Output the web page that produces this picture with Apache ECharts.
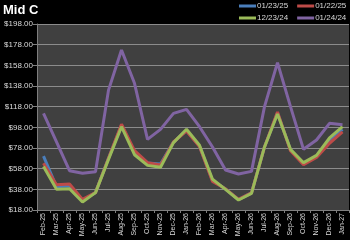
<!DOCTYPE html>
<html><head><meta charset="utf-8">
<script src="https://cdn.jsdelivr.net/npm/echarts@6/dist/echarts.min.js"></script>
<style>html,body{margin:0;padding:0;background:#000;}#c{width:350px;height:240px;}</style>
</head><body><div id="c"></div>
<script>
var categories = ['Feb-25','Mar-25','Apr-25','May-25','Jun-25','Jul-25','Aug-25','Sep-25','Oct-25','Nov-25','Dec-25','Jan-26','Feb-26','Mar-26','Apr-26','May-26','Jun-26','Jul-26','Aug-26','Sep-26','Oct-26','Nov-26','Dec-26','Jan-27'];
var s_012325 = [70.2,40.5,41.5,27.5,34.8,68,100,74,63.5,62.5,83.8,95,79.8,46.5,38.3,28,34.5,79,112,76,62.5,69.5,85.8,96];
var s_012225 = [63.2,42.5,43.2,28.3,34.8,68,101,75.4,63.8,61.5,83.8,94.5,79.4,45.7,38.5,28.3,34.5,79,112.8,75.4,61.8,68.9,82.6,93.5];
var s_122324 = [60,38,38.6,25.8,34.8,67,98.6,71.5,61.2,59.3,83.2,96.1,80.6,47.7,38,27.7,34.1,79,110.9,76.7,63.8,70.9,87.7,98.6];
var s_012424 = [111.5,84,56,53.5,55,134,172.8,140.6,86.4,96,111.5,115.4,98.6,79,56.7,52.8,55.4,118,160.6,118,76.7,85.7,101.9,100.6];
var names = ['01/23/25','01/22/25','12/23/24','01/24/24'];
var colors = ['#4A7EBB','#BE4B48','#9BBB59','#8064A2'];
var datas = [s_012325, s_012225, s_122324, s_012424];

function legendRow(items, top) {
  return {
    left: 239, top: top, itemWidth: 17, itemHeight: 3, itemGap: 9, padding: 0,
    icon: 'rect',
    textStyle: {color: '#d9d9d9', fontSize: 8, fontFamily: 'Liberation Sans', padding: [0,0,0,-4]},
    data: items
  };
}

var chart = echarts.init(document.getElementById('c'));
chart.setOption({
  backgroundColor: '#000',
  animation: false,
  title: {text: 'Mid C', left: 3, top: 4, padding: 0, textStyle: {color: '#fff', fontSize: 13, fontWeight: 'bold', fontFamily: 'Liberation Sans'}},
  legend: [legendRow([names[0], names[1]], 2), legendRow([names[2], names[3]], 14)],
  grid: {left: 37, right: 1, top: 24, bottom: 30, show: true, backgroundColor: '#404040', borderWidth: 0},
  xAxis: {
    type: 'category', data: categories, boundaryGap: true,
    axisLine: {show: true, lineStyle: {color: '#7f7f7f'}},
    axisTick: {show: true, length: 3, lineStyle: {color: '#7f7f7f'}},
    axisLabel: {rotate: 90, color: '#d9d9d9', fontSize: 7, margin: 3, interval: 0, fontFamily: 'Liberation Sans'}
  },
  yAxis: {
    type: 'value', min: 18, max: 198, interval: 20,
    axisLine: {show: true, lineStyle: {color: '#7f7f7f'}},
    axisTick: {show: true, length: 4, lineStyle: {color: '#7f7f7f'}},
    splitLine: {lineStyle: {color: '#8c8c8c', width: 1}},
    axisLabel: {color: '#d9d9d9', fontSize: 8, margin: 4, fontFamily: 'Liberation Sans', formatter: function(v){return '$' + v.toFixed(2);}}
  },
  series: datas.map(function(d, i){
    return {name: names[i], type: 'line', data: d, symbol: 'none', color: colors[i],
      lineStyle: {width: 3, color: colors[i]}, z: 2 + i};
  })
});
</script></body></html>
